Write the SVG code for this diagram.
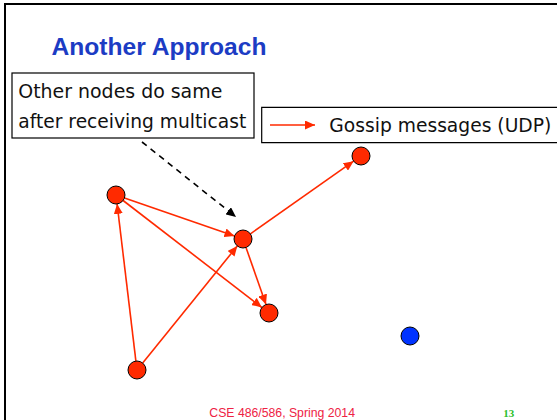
<svg xmlns="http://www.w3.org/2000/svg" width="557" height="420" viewBox="0 0 557 420">
  <style>
    .frame { stroke: #000; stroke-width: 2; fill: none; }
    .title { font-family: "Liberation Sans", Arial, sans-serif; font-weight: bold; font-size: 24.5px; fill: #1c3cc4; }
    .note { font-family: "DejaVu Sans", Verdana, sans-serif; font-size: 20px; fill: #111; }
    .box { fill: #fff; stroke: #000; stroke-width: 1.2; }
    .node { fill: #ff2a00; stroke: #000; stroke-width: 1; }
    .idle { fill: #0033ff; stroke: #000; stroke-width: 1; }
    .gossip { stroke: #ff2a00; stroke-width: 1.6; fill: none; marker-end: url(#redHead); }
    .hint { stroke: #000; stroke-width: 1.6; stroke-dasharray: 6 5; fill: none; marker-end: url(#blackHead); }
    .footer { font-family: "Liberation Sans", Arial, sans-serif; font-size: 12.3px; fill: #ee2244; }
    .pageno { font-family: "Liberation Serif", "Times New Roman", serif; font-weight: bold; font-size: 11px; fill: #2cbf2c; }
  </style>
  <defs>
    <marker id="redHead" markerUnits="userSpaceOnUse" markerWidth="11" markerHeight="9" refX="10" refY="4.5" orient="auto">
      <path d="M0,0 L10,4.5 L0,9 Z" fill="#ff2a00"/>
    </marker>
    <marker id="blackHead" markerUnits="userSpaceOnUse" markerWidth="11" markerHeight="9" refX="10" refY="4.5" orient="auto">
      <path d="M0,0 L10,4.5 L0,9 Z" fill="#000"/>
    </marker>
  </defs>

  <rect width="557" height="420" fill="#fff"/>
  <!-- slide frame -->
  <path class="frame" d="M5,420 V4 H557"/>

  <text class="title" x="51.5" y="55" textLength="215" lengthAdjust="spacingAndGlyphs">Another Approach</text>

  <!-- callout box -->
  <g id="callout">
    <rect class="box" x="12" y="73" width="242" height="65"/>
    <text class="note" x="18.3" y="98.3" textLength="204" lengthAdjust="spacingAndGlyphs">Other nodes do same</text>
    <text class="note" x="18.3" y="127.7" textLength="228" lengthAdjust="spacingAndGlyphs">after receiving multicast</text>
  </g>

  <!-- legend box (runs past the right edge of the slide) -->
  <g id="legend">
    <path class="box" d="M558,107.3 H261.7 V142.7 H558"/>
    <line class="gossip" x1="270" y1="125" x2="315" y2="125"/>
    <text class="note" x="329.3" y="131.7" textLength="222" lengthAdjust="spacingAndGlyphs">Gossip messages (UDP)</text>
  </g>

  <!-- connectors -->
  <g id="connectors">
    <line class="hint" x1="142" y1="142" x2="236" y2="217"/>
    <line class="gossip" x1="124.5" y1="197.9" x2="234.5" y2="236.1"/>
    <line class="gossip" x1="123.1" y1="200.5" x2="261.9" y2="307.5"/>
    <line class="gossip" x1="135.9" y1="361.1" x2="117.1" y2="203.9"/>
    <line class="gossip" x1="142.7" y1="363" x2="237.3" y2="246"/>
    <line class="gossip" x1="246" y1="247.5" x2="266" y2="304.5"/>
    <line class="gossip" x1="250.4" y1="233.8" x2="353.6" y2="161.2"/>
  </g>

  <!-- nodes -->
  <g id="node-a"><circle class="node" cx="116" cy="195" r="9"/></g>
  <g id="node-b"><circle class="node" cx="243" cy="239" r="9"/></g>
  <g id="node-c"><circle class="node" cx="269" cy="313" r="9"/></g>
  <g id="node-d"><circle class="node" cx="137" cy="370" r="9"/></g>
  <g id="node-e"><circle class="node" cx="361" cy="156" r="9"/></g>
  <g id="node-f"><circle class="idle" cx="410" cy="336" r="9"/></g>

  <text class="footer" x="209.3" y="416.5" textLength="145.7" lengthAdjust="spacingAndGlyphs">CSE 486/586, Spring 2014</text>
  <text class="pageno" x="503.3" y="416.5">13</text>
</svg>
